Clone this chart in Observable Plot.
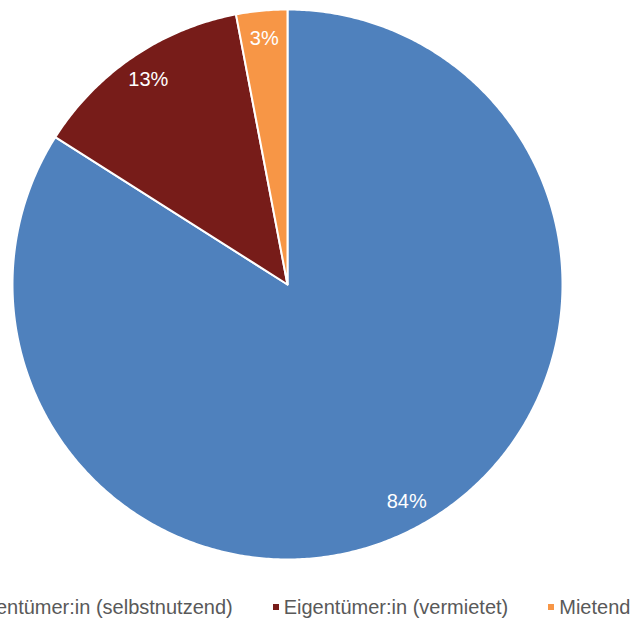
<!DOCTYPE html>
<html>
<head>
<meta charset="utf-8">
<script src="https://cdn.jsdelivr.net/npm/d3@7"></script>
<script src="https://cdn.jsdelivr.net/npm/@observablehq/plot@0.6"></script>
<style>
  html, body { margin: 0; padding: 0; background: #fff; overflow: hidden; }
  #wrap { position: relative; width: 635px; height: 621px; overflow: hidden; }
  #legend { position: absolute; left: -44px; top: 596px; white-space: nowrap;
    font-family: "Liberation Sans", Arial, sans-serif; font-size: 20px; color: #595959; }
  #legend span.item { display: inline-block; margin-right: 40px; }
  #legend span.sw { display: inline-block; width: 6px; height: 6px; margin-right: 5px; vertical-align: middle; position: relative; top: -2px; }
</style>
</head>
<body>
<div id="wrap"><div id="chart"></div><div id="legend"></div></div>
<script>
const categories = ["Eigentümer:in (selbstnutzend)", "Eigentümer:in (vermietet)", "Mietend"];
const values = [84, 13, 3];
const colors = ["#4f81bd", "#771c19", "#f79646"];

// pie angles (clockwise from 12 o'clock), order: blue first
const pie = d3.pie().sort(null).value(d => d.value)(categories.map((c, i) => ({category: c, value: values[i]})));
const poly = [];
const labels = [];
pie.forEach(s => {
  const c = s.data.category;
  poly.push({category: c, x: 0, y: 0});
  const n = Math.max(2, Math.ceil((s.endAngle - s.startAngle) / (Math.PI / 360)));
  for (let k = 0; k <= n; k++) {
    const a = s.startAngle + (s.endAngle - s.startAngle) * k / n;
    poly.push({category: c, x: Math.sin(a), y: Math.cos(a)});
  }
  poly.push({category: c, x: 0, y: 0});
  const m = (s.startAngle + s.endAngle) / 2;
  labels.push({category: c, x: 0.9 * Math.sin(m), y: 0.9 * Math.cos(m), text: Math.round(s.data.value) + "%"});
});

const W = 635, H = 590;
const plot = Plot.plot({
  width: W, height: H,
  marginLeft: 12, marginRight: 73, marginTop: 9, marginBottom: 31,
  x: {domain: [-1, 1], axis: null},
  y: {domain: [-1, 1], axis: null},
  color: {domain: categories, range: colors},
  style: {fontFamily: "'Liberation Sans', Arial, sans-serif", background: "white"},
  marks: [
    Plot.line(poly, {x: "x", y: "y", z: "category", fill: "category", stroke: "white", strokeWidth: 2, strokeLinejoin: "round"}),
    Plot.text(labels, {x: "x", y: "y", text: "text", fill: "white", fontSize: 20})
  ]
});
document.getElementById("chart").appendChild(plot);

const leg = document.getElementById("legend");
categories.forEach((c, i) => {
  const it = document.createElement("span");
  it.className = "item";
  const sw = document.createElement("span");
  sw.className = "sw";
  sw.style.background = colors[i];
  it.appendChild(sw);
  it.appendChild(document.createTextNode(c));
  leg.appendChild(it);
});
</script>
</body>
</html>
